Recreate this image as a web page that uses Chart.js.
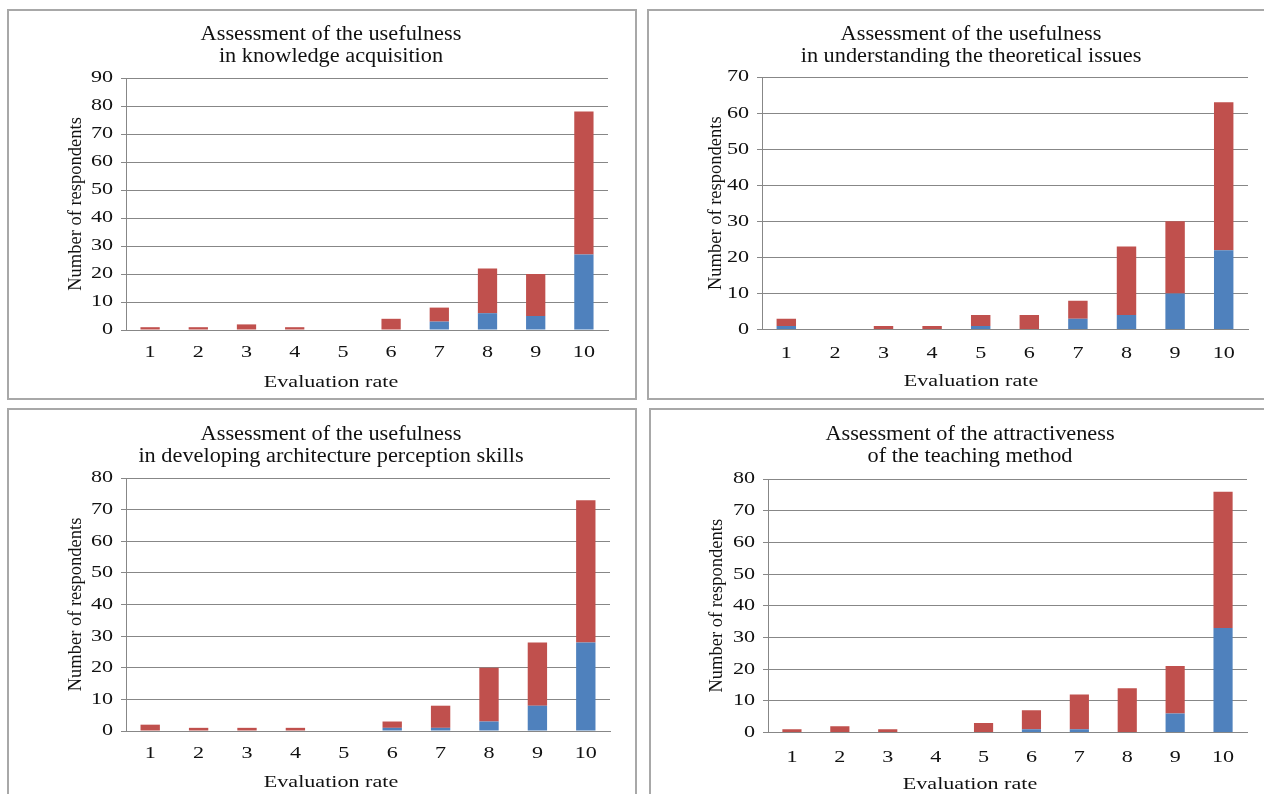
<!DOCTYPE html>
<html><head><meta charset="utf-8">
<script src="https://cdn.jsdelivr.net/npm/chart.js@4.4.1/dist/chart.umd.min.js"></script>
<style>
html,body{margin:0;padding:0;background:#fff;}
body{width:1264px;height:794px;overflow:hidden;position:relative;}
.box{position:absolute;border:2px solid #a8a8a8;box-sizing:border-box;}
canvas{position:absolute;}
</style></head><body>
<div class="box" style="left:7px;top:9px;width:630px;height:391px;"></div>
<div class="box" style="left:647px;top:9px;width:660px;height:391px;"></div>
<div class="box" style="left:7px;top:408px;width:630px;height:420px;"></div>
<div class="box" style="left:649px;top:408px;width:660px;height:420px;"></div>
<canvas id="c1" width="625" height="386" style="left:9px;top:11px;"></canvas>
<canvas id="c2" width="640" height="386" style="left:649px;top:11px;"></canvas>
<canvas id="c3" width="625" height="390" style="left:9px;top:410px;"></canvas>
<canvas id="c4" width="640" height="390" style="left:651px;top:410px;"></canvas>
<script>
const categories = ['1','2','3','4','5','6','7','8','9','10'];
const knowledgeBlue = [0,0,0,0,0,0,3,6,5,27];
const knowledgeRed  = [1,1,2,1,0,4,5,16,15,51];
const theoryBlue = [1,0,0,0,1,0,3,4,10,22];
const theoryRed  = [2,0,1,1,3,4,5,19,20,41];
const perceptionBlue = [0,0,0,0,0,1,1,3,8,28];
const perceptionRed  = [2,1,1,1,0,2,7,17,20,45];
const attractBlue = [0,0,0,0,0,1,1,0,6,33];
const attractRed  = [1,2,1,0,3,6,11,14,15,43];
const titles = [
  ['Assessment of the usefulness','in knowledge acquisition'],
  ['Assessment of the usefulness','in understanding the theoretical issues'],
  ['Assessment of the usefulness','in developing architecture perception skills'],
  ['Assessment of the attractiveness','of the teaching method']
];
const yMaxes = [90, 70, 80, 80];
const xTitle = 'Evaluation rate';
const yTitle = 'Number of respondents';

const FONT = "'Liberation Serif', 'Times New Roman', serif";
const GRID = '#878787';
const TXT = '#111';

// The reference's lettering is horizontally wide; widen horizontal text around its anchor.
const STRETCH = {'20': 1.115, '17': 1.3};
const origFill = CanvasRenderingContext2D.prototype.fillText;
CanvasRenderingContext2D.prototype.fillText = function(text, x, y, maxWidth) {
  const m = /(\d+(?:\.\d+)?)px/.exec(this.font);
  const sx = m ? (STRETCH[m[1]] || 1) : 1;
  const t = this.getTransform();
  if (sx === 1 || Math.abs(t.b) > 1e-6 || Math.abs(t.c) > 1e-6) {
    return maxWidth === undefined ? origFill.call(this, text, x, y) : origFill.call(this, text, x, y, maxWidth);
  }
  this.save();
  this.translate(x, y);
  this.scale(sx, 1);
  origFill.call(this, text, 0, 0);
  this.restore();
};

function makeChart(id, blue, red, title, yMax, g) {
  new Chart(document.getElementById(id), {
    type: 'bar',
    data: {
      labels: categories,
      datasets: [
        {data: blue, backgroundColor: '#4F81BD', barPercentage: 0.4, categoryPercentage: 1.0},
        {data: red, backgroundColor: '#C0504D', barPercentage: 0.4, categoryPercentage: 1.0}
      ]
    },
    options: {
      responsive: false, animation: false, devicePixelRatio: 1,
      layout: {padding: {left: g.L, right: g.R, top: 0, bottom: 0}},
      plugins: {
        legend: {display: false}, tooltip: {enabled: false},
        title: {display: true, text: title, color: TXT,
          font: {family: FONT, size: 20, weight: 'normal', lineHeight: '22px'},
          padding: {top: g.tpt, bottom: g.tpb}},
        subtitle: {display: true, position: 'bottom', text: xTitle, color: TXT,
          font: {family: FONT, size: 17, weight: 'normal', lineHeight: '20px'},
          padding: {top: 0, bottom: g.stb}}
      },
      scales: {
        x: {
          stacked: true,
          grid: {display: false, drawTicks: false},
          border: {display: true, color: GRID, width: 1},
          ticks: {color: TXT, font: {family: FONT, size: 17}, padding: g.xtp, maxRotation: 0},
          afterFit: s => { s.height = g.xh; }
        },
        y: {
          stacked: true, min: 0, max: yMax,
          grid: {color: GRID, lineWidth: 1, drawTicks: true, tickLength: 5},
          border: {display: true, color: GRID, width: 1},
          ticks: {stepSize: 10, color: TXT, font: {family: FONT, size: 17}, padding: 8},
          title: {display: true, text: yTitle, color: TXT, font: {family: FONT, size: 18.5, lineHeight: 1.2}, padding: {top: g.ytp, bottom: 0}},
          afterFit: s => { s.width = g.yw; }
        }
      }
    }
  });
}

// H - B - (stb + 20) = xh
makeChart('c1', knowledgeBlue, knowledgeRed, titles[0], yMaxes[0], {L:45,R:26,yw:72,tpt:13,tpb:10,xtp:12,stb:4,xh:43,ytp:11});
makeChart('c2', theoryBlue, theoryRed, titles[1], yMaxes[1], {L:45,R:41,yw:68,tpt:13,tpb:9,xtp:14,stb:5,xh:42.5,ytp:11});
makeChart('c3', perceptionBlue, perceptionRed, titles[2], yMaxes[2], {L:43,R:24,yw:74,tpt:14,tpb:10,xtp:12,stb:7,xh:42,ytp:13});
makeChart('c4', attractBlue, attractRed, titles[3], yMaxes[3], {L:42,R:44,yw:75,tpt:14,tpb:11,xtp:15,stb:5,xh:42.5,ytp:13});
</script>
</body></html>
